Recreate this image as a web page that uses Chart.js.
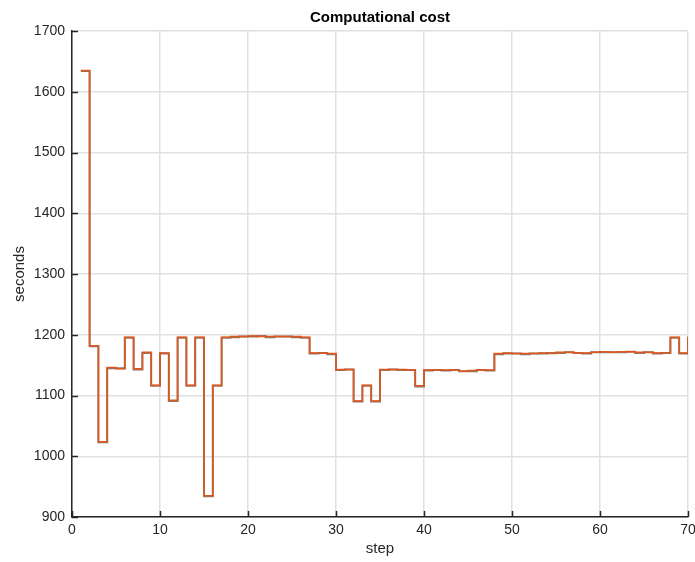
<!DOCTYPE html>
<html>
<head>
<meta charset="utf-8">
<title>Computational cost</title>
<script src="https://cdn.jsdelivr.net/npm/chart.js@4/dist/chart.umd.min.js"></script>
<style>
  html, body { margin: 0; padding: 0; background: #ffffff; }
  #wrap { width: 695px; height: 562px; }
</style>
</head>
<body>
<div id="wrap"><canvas id="cost" width="695" height="562"></canvas></div>
<script>
// Step index of each run (stairs: value i holds from step i to step i+1)
const steps = [
  1, 2, 3, 4, 5, 6, 7, 8, 9, 10,
  11, 12, 13, 14, 15, 16, 17, 18, 19, 20,
  21, 22, 23, 24, 25, 26, 27, 28, 29, 30,
  31, 32, 33, 34, 35, 36, 37, 38, 39, 40,
  41, 42, 43, 44, 45, 46, 47, 48, 49, 50,
  51, 52, 53, 54, 55, 56, 57, 58, 59, 60,
  61, 62, 63, 64, 65, 66, 67, 68, 69, 70
];

// Wall-clock seconds per step, measured run
const costMeasured = [
  1635, 1182, 1024, 1146, 1144, 1196, 1144, 1171, 1117, 1170,
  1092, 1196, 1117, 1196, 935, 1117, 1196, 1197, 1197, 1198,
  1197, 1197, 1197, 1197, 1197, 1196, 1170, 1170, 1169, 1143,
  1143, 1091, 1117, 1091, 1143, 1143, 1143, 1142, 1116, 1142,
  1142, 1142, 1142, 1140, 1141, 1142, 1142, 1169, 1170, 1169,
  1169, 1169, 1170, 1169, 1171, 1171, 1170, 1170, 1171, 1172,
  1171, 1172, 1172, 1171, 1171, 1170, 1170, 1196, 1170, 1197
];

// Wall-clock seconds per step, reference run
const costReference = [
  1634, 1181, 1023, 1145, 1145, 1195, 1143, 1170, 1116, 1169,
  1091, 1195, 1116, 1195, 934, 1116, 1195, 1196, 1197, 1197,
  1198, 1196, 1197, 1197, 1196, 1195, 1169, 1170, 1168, 1142,
  1143, 1090, 1116, 1090, 1142, 1143, 1142, 1142, 1115, 1141,
  1142, 1141, 1142, 1140, 1140, 1142, 1141, 1168, 1169, 1169,
  1168, 1169, 1169, 1170, 1170, 1171, 1170, 1169, 1171, 1171,
  1171, 1171, 1172, 1170, 1171, 1169, 1170, 1195, 1169, 1196
];

// Axis ticks
const xTicks = [0, 10, 20, 30, 40, 50, 60, 70];
const yTicks = [900, 1000, 1100, 1200, 1300, 1400, 1500, 1600, 1700];

const toPoints = (ys) => steps.map((s, i) => ({ x: s, y: ys[i] }));

const FONT = "'Liberation Sans', Arial, Helvetica, sans-serif";
const AXIS = '#262626';
const GRID = '#e0e0e0';

// Small tick marks pointing into the plot area
const innerTicks = {
  id: 'innerTicks',
  afterDatasetsDraw(chart) {
    const { ctx, chartArea, scales } = chart;
    ctx.save();
    ctx.strokeStyle = AXIS;
    ctx.lineWidth = 1.5;
    ctx.beginPath();
    yTicks.forEach(v => {
      const y = Math.round(scales.y.getPixelForValue(v)) + 0.5;
      ctx.moveTo(chartArea.left, y);
      ctx.lineTo(chartArea.left + 6, y);
    });
    xTicks.forEach(v => {
      const x = Math.round(scales.x.getPixelForValue(v)) + 0.5;
      ctx.moveTo(x, chartArea.bottom);
      ctx.lineTo(x, chartArea.bottom - 6);
    });
    ctx.stroke();
    ctx.restore();
  }
};

new Chart(document.getElementById('cost'), {
  type: 'line',
  data: {
    datasets: [
      {
        label: 'reference',
        data: toPoints(costReference),
        borderColor: '#8a776c',
        borderWidth: 2,
        stepped: 'before',
        pointRadius: 0,
        fill: false,
        order: 2
      },
      {
        label: 'measured',
        data: toPoints(costMeasured),
        borderColor: '#e0561b',
        borderWidth: 1.5,
        stepped: 'before',
        pointRadius: 0,
        fill: false,
        order: 1
      }
    ]
  },
  options: {
    responsive: false,
    animation: false,
    layout: { padding: { left: 0, right: 0, top: 0, bottom: 0 } },
    plugins: {
      legend: { display: false },
      tooltip: { enabled: false },
      title: {
        display: true,
        fullSize: false,
        text: 'Computational cost',
        color: '#000000',
        font: { family: FONT, size: 15, weight: 'bold', lineHeight: 1.2 },
        padding: { top: 9, bottom: 4 }
      }
    },
    scales: {
      x: {
        type: 'linear',
        min: 0,
        max: 70,
        afterBuildTicks(scale) { scale.ticks = xTicks.map(v => ({ value: v })); },
        afterFit(scale) {
          scale.height = 45;
          scale.paddingLeft = 0;
          scale.paddingRight = 7;
        },
        ticks: {
          color: AXIS,
          font: { family: FONT, size: 14 },
          padding: 5,
          maxRotation: 0,
          callback: (v) => String(v)
        },
        grid: { color: GRID, lineWidth: 1.5, drawTicks: false },
        border: { display: true, color: AXIS, width: 1.5 },
        title: {
          display: true,
          text: 'step',
          color: AXIS,
          font: { family: FONT, size: 15, lineHeight: 1.2 },
          padding: { top: 0, bottom: 4 }
        }
      },
      y: {
        type: 'linear',
        min: 900,
        max: 1700,
        afterBuildTicks(scale) { scale.ticks = yTicks.map(v => ({ value: v })); },
        afterFit(scale) { scale.width = 72; },
        ticks: {
          color: AXIS,
          font: { family: FONT, size: 14 },
          padding: 7,
          callback: (v) => String(v)
        },
        grid: { color: GRID, lineWidth: 1.5, drawTicks: false },
        border: { display: true, color: AXIS, width: 1.5 },
        title: {
          display: true,
          text: 'seconds',
          color: AXIS,
          font: { family: FONT, size: 15, lineHeight: 1.2 },
          padding: { top: 11, bottom: 0 }
        }
      }
    }
  },
  plugins: [innerTicks]
});
</script>
</body>
</html>
